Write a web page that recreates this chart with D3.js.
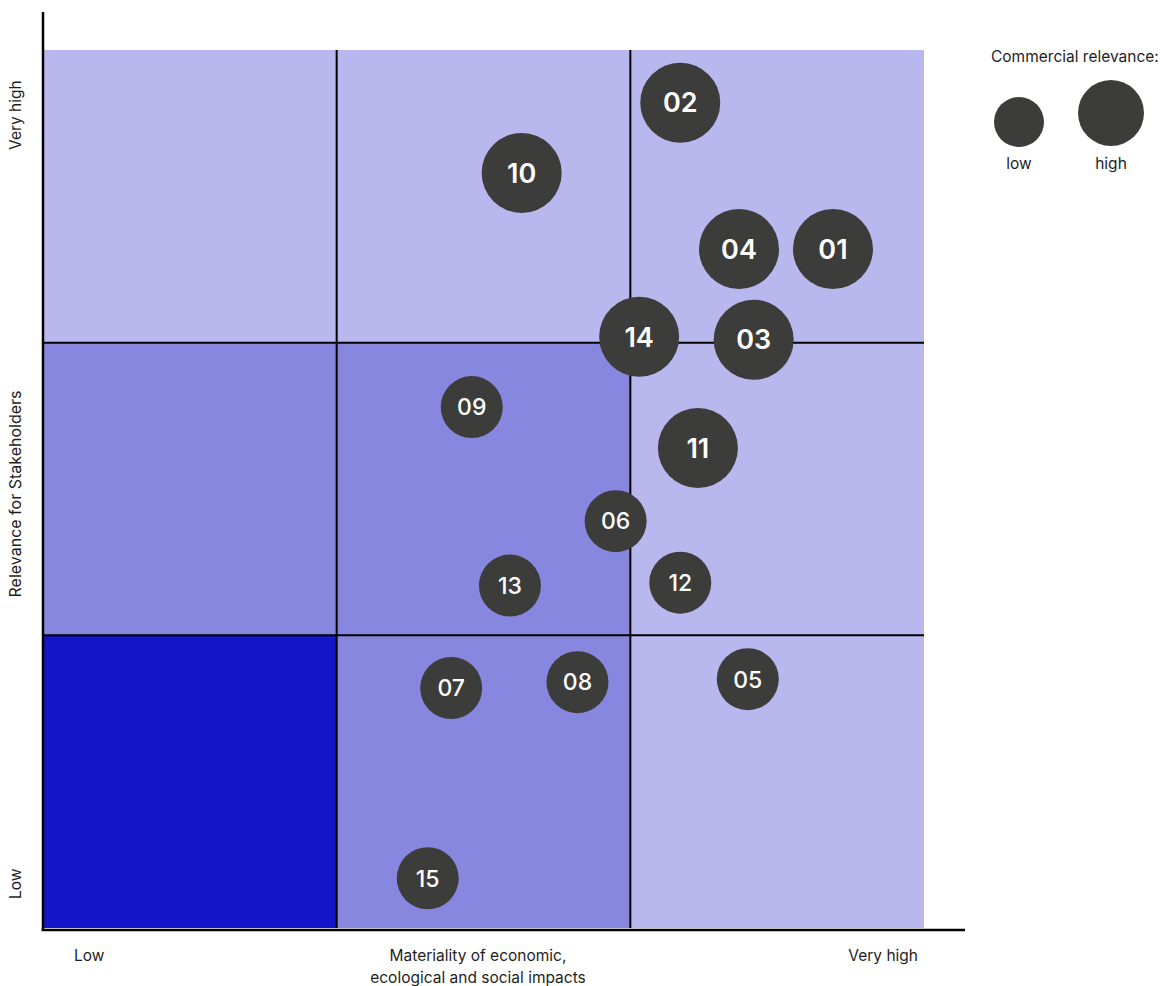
<!DOCTYPE html>
<html>
<head>
<meta charset="utf-8">
<script src="https://cdn.jsdelivr.net/npm/d3@7"></script>
<style>
  html, body { margin: 0; padding: 0; background: #fff; }
  svg { display: block; font-family: Inter, "Noto Sans", sans-serif; }
</style>
</head>
<body>
<svg id="chart" width="1162" height="986"></svg>
<script>
// Materiality matrix: topics placed by impact (x) and stakeholder relevance (y), 0–3 scale
const topics      = ["01","02","03","04","05","06","07","08","09","10","11","12","13","14","15"];
const impact      = [2.69, 2.17, 2.42, 2.37, 2.40, 1.95, 1.39, 1.82, 1.46, 1.63, 2.23, 2.17, 1.59, 2.03, 1.31];
const stakeholder = [2.32, 2.82, 2.01, 2.32, 0.85, 1.39, 0.82, 0.84, 1.78, 2.58, 1.64, 1.18, 1.17, 2.02, 0.17];
const commercial  = ["high","high","high","high","low","low","low","low","low","high","high","low","low","high","low"];

// Shading tier of each matrix cell, rows listed from top to bottom
const cellTiers = [
  ["light",  "light",  "light"],
  ["medium", "medium", "light"],
  ["dark",   "medium", "light"]
];
const xTickLabels = ["Low", "Very high"];
const yTickLabels = ["Low", "Very high"];

const svg = d3.select("#chart");

const x = d3.scaleLinear().domain([0, 3]).range([43, 924]);
const y = d3.scaleLinear().domain([0, 3]).range([928, 50]);

const tierColor = d3.scaleOrdinal()
  .domain(["light", "medium", "dark"])
  .range(["#b8b8ee", "#8787e0", "#1414c8"]);

const radius = d3.scaleOrdinal().domain(["low", "high"]).range([31, 40]);

// Cells
const cells = [];
cellTiers.forEach((row, r) => row.forEach((tier, c) => cells.push({ r, c, tier })));
svg.append("g").selectAll("rect")
  .data(cells)
  .join("rect")
  .attr("x", d => x(d.c))
  .attr("y", d => y(3 - d.r))
  .attr("width", d => x(d.c + 1) - x(d.c))
  .attr("height", d => y(2 - d.r) - y(3 - d.r))
  .attr("fill", d => tierColor(d.tier));

// Inner grid lines
const grid = svg.append("g").attr("stroke", "#000").attr("stroke-width", 2);
[1, 2].forEach(v => {
  grid.append("line").attr("x1", x(v)).attr("x2", x(v)).attr("y1", y(3)).attr("y2", y(0));
  grid.append("line").attr("x1", x(0)).attr("x2", x(3)).attr("y1", y(v)).attr("y2", y(v));
});

// Axis lines
svg.append("line").attr("x1", x(0)).attr("x2", x(0)).attr("y1", 12).attr("y2", 931)
  .attr("stroke", "#000").attr("stroke-width", 2.5);
svg.append("line").attr("x1", x(0) - 1.25).attr("x2", 965).attr("y1", 930).attr("y2", 930)
  .attr("stroke", "#000").attr("stroke-width", 2.5);

// Axis labels
const labelColor = "#1e1e1e";
const fs = 15.5;
svg.append("text").attr("x", 74).attr("y", 961).attr("font-size", fs).attr("fill", labelColor)
  .text(xTickLabels[0]);
svg.append("text").attr("x", 918).attr("y", 961).attr("font-size", fs).attr("fill", labelColor)
  .attr("text-anchor", "end").text(xTickLabels[1]);
const xTitle = svg.append("text").attr("x", 478).attr("font-size", fs).attr("fill", labelColor)
  .attr("text-anchor", "middle");
xTitle.append("tspan").attr("x", 478).attr("y", 961).text("Materiality of economic,");
xTitle.append("tspan").attr("x", 478).attr("y", 983).text("ecological and social impacts");

svg.append("text").attr("transform", "translate(21,899) rotate(-90)")
  .attr("font-size", fs).attr("fill", labelColor).text(yTickLabels[0]);
svg.append("text").attr("transform", "translate(21,150) rotate(-90)")
  .attr("font-size", fs).attr("fill", labelColor).text(yTickLabels[1]);
svg.append("text").attr("transform", "translate(21,494) rotate(-90)")
  .attr("font-size", 16).attr("fill", labelColor).attr("text-anchor", "middle")
  .text("Relevance for Stakeholders");

// Topic bubbles
const points = topics.map((id, i) => ({ id, x: impact[i], y: stakeholder[i], rel: commercial[i] }));
const bubble = svg.append("g").selectAll("g")
  .data(points)
  .join("g")
  .attr("transform", d => `translate(${x(d.x)},${y(d.y)})`);
bubble.append("circle")
  .attr("r", d => radius(d.rel))
  .attr("fill", "#3c3c3a");
bubble.append("text")
  .attr("text-anchor", "middle")
  .attr("dy", "0.36em")
  .attr("fill", "#fff")
  .attr("font-size", d => d.rel === "high" ? 27 : 23)
  .attr("font-weight", d => d.rel === "high" ? 600 : 500)
  .text(d => d.id);

// Legend
const legend = svg.append("g");
legend.append("text").attr("x", 991).attr("y", 62).attr("font-size", fs).attr("fill", labelColor)
  .text("Commercial relevance:");
const legendItems = [
  { label: "low",  cx: 1019, cy: 122, r: 25 },
  { label: "high", cx: 1111, cy: 113, r: 33 }
];
legendItems.forEach(d => {
  legend.append("circle").attr("cx", d.cx).attr("cy", d.cy).attr("r", d.r).attr("fill", "#3c3c3a");
  legend.append("text").attr("x", d.cx).attr("y", 169).attr("text-anchor", "middle")
    .attr("font-size", fs).attr("fill", labelColor).text(d.label);
});
</script>
</body>
</html>
